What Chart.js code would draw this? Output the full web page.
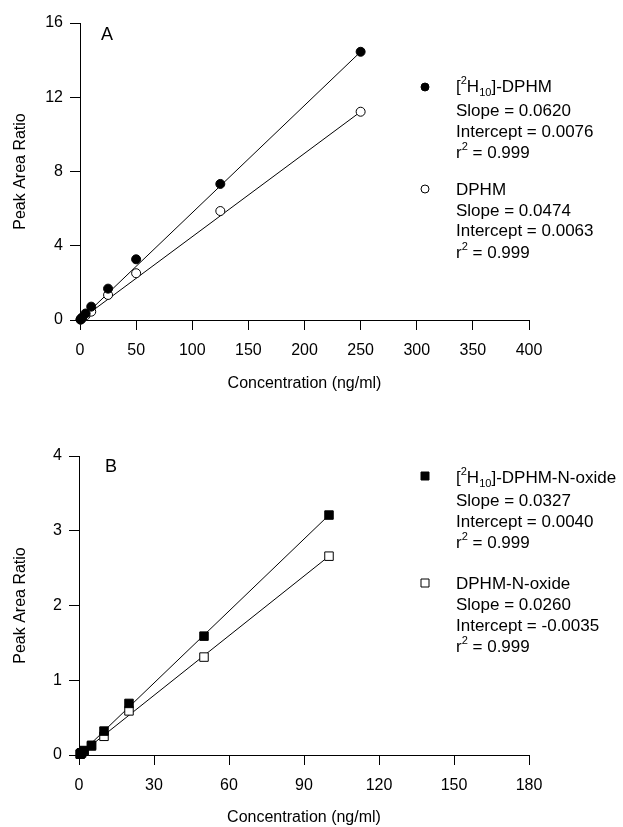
<!DOCTYPE html>
<html>
<head>
<meta charset="utf-8">
<script src="https://cdn.jsdelivr.net/npm/chart.js@4.4.1/dist/chart.umd.min.js"></script>
<style>
  html, body { margin: 0; padding: 0; background: #fff; }
  #wrap { position: relative; width: 623px; height: 827px; }
  .panel { position: absolute; left: 0; width: 623px; }
</style>
</head>
<body>
<div id="wrap">
  <div class="panel" style="top:0;height:413px"><canvas id="chartA" width="623" height="413"></canvas></div>
  <div class="panel" style="top:413px;height:414px"><canvas id="chartB" width="623" height="414"></canvas></div>
</div>
<script>
// painel A: DPHM
const concA = [0.5, 1, 2, 5, 10, 25, 50, 125, 250];
const d10A = [0.03, 0.07, 0.14, 0.35, 0.72, 1.69, 3.27, 7.33, 14.45];
const d0A = [0.02, 0.05, 0.10, 0.25, 0.45, 1.35, 2.52, 5.87, 11.22];
const fitXA = [0, 250];
const fitD10A = [0.0, 14.45];
const fitD0A = [0.0, 11.22];
const namesA = ['[^{2}H_{10}]-DPHM', 'DPHM'];
const slopesA = ['0.0620', '0.0474'];
const interceptsA = ['0.0076', '0.0063'];
const r2A = ['0.999', '0.999'];

// painel B: DPHM-N-oxide
const concB = [0.5, 1, 2, 5, 10, 20, 50, 100];
const d10B = [0.015, 0.03, 0.06, 0.13, 0.32, 0.69, 1.59, 3.21];
const d0B = [0.01, 0.025, 0.05, 0.12, 0.25, 0.59, 1.31, 2.66];
const fitXB = [0, 100];
const fitD10B = [0.0, 3.21];
const fitD0B = [0.0, 2.66];
const namesB = ['[^{2}H_{10}]-DPHM-N-oxide', 'DPHM-N-oxide'];
const slopesB = ['0.0327', '0.0260'];
const interceptsB = ['0.0040', '-0.0035'];
const r2B = ['0.999', '0.999'];

const FONT = '"Liberation Sans", Arial, sans-serif';
Chart.defaults.font.family = FONT;
Chart.defaults.color = '#000';

const toXY = (xs, ys) => xs.map((x, i) => ({ x: x, y: ys[i] }));

// desenha texto com ^{sup} e _{sub}
function drawRich(ctx, str, x, y, size) {
  const parts = str.split(/(\^\{[^}]*\}|_\{[^}]*\})/).filter(p => p);
  ctx.textBaseline = 'alphabetic';
  ctx.textAlign = 'left';
  for (const p of parts) {
    let txt = p, s = size, dy = 0;
    if (p.startsWith('^{')) { txt = p.slice(2, -1); s = size * 0.65; dy = -size * 0.45; }
    else if (p.startsWith('_{')) { txt = p.slice(2, -1); s = size * 0.65; dy = size * 0.22; }
    ctx.font = s + 'px ' + FONT;
    ctx.fillText(txt, x, y + dy);
    x += ctx.measureText(txt).width;
  }
}

function drawMarker(ctx, style, filled, x, y) {
  ctx.save();
  ctx.fillStyle = filled ? '#000' : '#fff';
  ctx.strokeStyle = '#000';
  ctx.lineWidth = 1;
  ctx.beginPath();
  if (style === 'circle') ctx.arc(x, y, 4, 0, Math.PI * 2);
  else ctx.rect(x - 4, y - 4, 8, 8);
  ctx.fill();
  ctx.stroke();
  ctx.restore();
}

function notesPlugin(letter, letterPos, style, names, slopes, intercepts, r2, blocks) {
  return {
    id: 'notes',
    afterDraw(chart) {
      const ctx = chart.ctx;
      ctx.save();
      ctx.fillStyle = '#000';
      ctx.font = '18px ' + FONT;
      ctx.textBaseline = 'middle';
      ctx.fillText(letter, letterPos[0], letterPos[1]);
      blocks.forEach((b, i) => {
        drawMarker(ctx, style, i === 0, 425, b.marker);
        const lines = [names[i], 'Slope = ' + slopes[i], 'Intercept = ' + intercepts[i], 'r^{2} = ' + r2[i]];
        lines.forEach((t, j) => drawRich(ctx, t, 456, b.lines[j] + 6, 17));
      });
      ctx.restore();
    }
  };
}

function scaleOptions(xMax, xStep, yMax, yStep, yWidth, xHeight, xTitlePad) {
  const tickFont = { size: 16 };
  return {
    x: {
      type: 'linear', min: 0, max: xMax,
      ticks: { stepSize: xStep, font: tickFont, padding: 11, maxRotation: 0, color: '#000' },
      grid: { drawOnChartArea: false, color: '#000', tickLength: 10 },
      border: { color: '#000', width: 1 },
      title: { display: true, text: 'Concentration (ng/ml)', font: { size: 16 }, color: '#000', padding: { top: 0, bottom: xTitlePad } },
      afterFit: s => { s.height = xHeight; }
    },
    y: {
      type: 'linear', min: 0, max: yMax,
      ticks: { stepSize: yStep, font: tickFont, padding: 7, color: '#000' },
      grid: { drawOnChartArea: false, color: '#000', tickLength: 10 },
      border: { color: '#000', width: 1 },
      title: { display: true, text: 'Peak Area Ratio', font: { size: 16 }, color: '#000', padding: { top: 11, bottom: 0 } },
      afterFit: s => { s.width = yWidth; }
    }
  };
}

function makeDatasets(conc, d10, d0, fitX, fit10, fit0, style, radius) {
  const line = { showLine: true, borderColor: '#000', borderWidth: 1, pointRadius: 0, fill: false, order: 1, clip: false };
  return [
    { data: toXY(conc, d10), pointStyle: style, pointRadius: radius, backgroundColor: '#000', borderColor: '#000', borderWidth: 1, showLine: false, order: 0, clip: false },
    { data: toXY(conc, d0), pointStyle: style, pointRadius: radius, backgroundColor: '#fff', borderColor: '#000', borderWidth: 1, showLine: false, order: 0, clip: false },
    Object.assign({ data: toXY(fitX, fit10) }, line),
    Object.assign({ data: toXY(fitX, fit0) }, line)
  ];
}

const common = {
  responsive: false,
  animation: false,
  plugins: { legend: { display: false }, tooltip: { enabled: false } }
};

new Chart(document.getElementById('chartA'), {
  type: 'scatter',
  data: { datasets: makeDatasets(concA, d10A, d0A, fitXA, fitD10A, fitD0A, 'circle', 4.5) },
  options: Object.assign({}, common, {
    layout: { padding: { left: 0, top: 23, right: 94, bottom: 0 } },
    scales: scaleOptions(400, 50, 16, 4, 80, 93, 20)
  }),
  plugins: [notesPlugin('A', [101, 35], 'circle', namesA, slopesA, interceptsA, r2A, [
    { marker: 87, lines: [86, 110, 131, 152] },
    { marker: 189, lines: [189, 210, 230, 252] }
  ])]
});

new Chart(document.getElementById('chartB'), {
  type: 'scatter',
  data: { datasets: makeDatasets(concB, d10B, d0B, fitXB, fitD10B, fitD0B, 'rect', 6) },
  options: Object.assign({}, common, {
    layout: { padding: { left: 0, top: 43, right: 94, bottom: 0 } },
    scales: scaleOptions(180, 30, 4, 1, 79, 72, 0)
  }),
  plugins: [notesPlugin('B', [105, 54], 'rect', namesB, slopesB, interceptsB, r2B, [
    { marker: 63, lines: [64, 87, 108, 129] },
    { marker: 170, lines: [170, 191, 212, 233] }
  ])]
});
</script>
</body>
</html>
